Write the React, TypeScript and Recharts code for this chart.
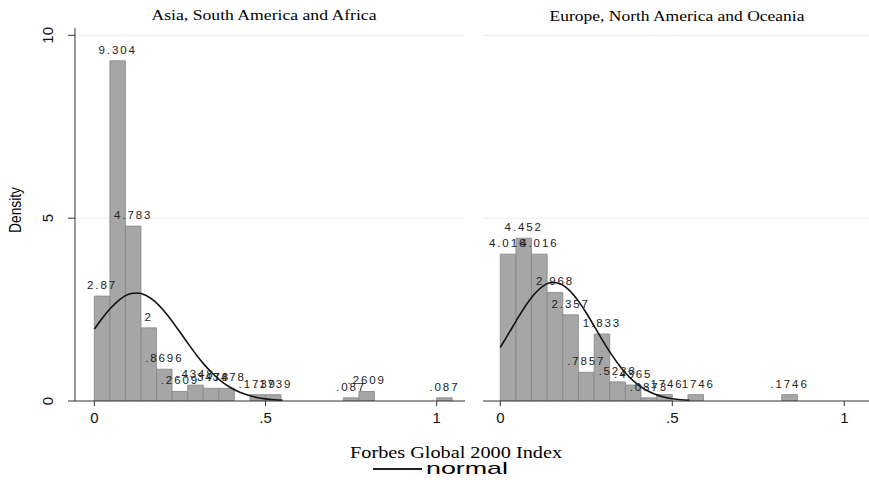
import React from 'react';
import { ComposedChart, Bar, Line, XAxis, YAxis, CartesianGrid, LabelList } from 'recharts';

const panelTitles = ['Asia, South America and Africa', 'Europe, North America and Oceania'];
const xAxisTitle = 'Forbes Global 2000 Index';
const yAxisTitle = 'Density';
const legendLabel = 'normal';

const xTicks = [0, 0.5, 1];
const yTicks = [0, 5, 10];
const binWidth = 0.04545;

// histogram bin midpoints and densities (empty bins left out)
const asiaBins = [0.0227, 0.0682, 0.1136, 0.1591, 0.2045, 0.25, 0.2955, 0.3409, 0.3864, 0.4773, 0.5227, 0.75, 0.7955, 1.0227];
const asiaDensity = [2.87, 9.304, 4.783, 2, 0.8696, 0.2609, 0.4348, 0.3478, 0.3478, 0.1739, 0.1739, 0.087, 0.2609, 0.087];

const europeBins = [0.0227, 0.0682, 0.1136, 0.1591, 0.2045, 0.25, 0.2955, 0.3409, 0.3864, 0.4318, 0.4773, 0.5682, 0.8409];
const europeDensity = [4.016, 4.452, 4.016, 2.968, 2.357, 0.7857, 1.833, 0.5238, 0.4365, 0.0873, 0.1746, 0.1746, 0.1746];

// normal curve
const curveX = [0, 0.025, 0.05, 0.075, 0.1, 0.125, 0.15, 0.175, 0.2, 0.225, 0.25, 0.275, 0.3, 0.325, 0.35, 0.375, 0.4, 0.425, 0.45, 0.475, 0.5, 0.525, 0.55];
const asiaNormal = [1.965, 2.283, 2.563, 2.781, 2.916, 2.955, 2.892, 2.736, 2.501, 2.209, 1.885, 1.555, 1.239, 0.954, 0.71, 0.51, 0.355, 0.238, 0.155, 0.097, 0.059, 0.034, 0.019];
const europeNormal = [1.466, 1.855, 2.253, 2.625, 2.934, 3.148, 3.24, 3.201, 3.033, 2.758, 2.407, 2.015, 1.619, 1.248, 0.923, 0.655, 0.446, 0.292, 0.183, 0.11, 0.063, 0.035, 0.019];

const sans = 'Liberation Sans, Arial, sans-serif';
const serif = 'Liberation Serif, Times New Roman, serif';

// stata style: drop the leading zero
const fmt = (v: any) => String(v).replace(/^0\./, '.');

const YTick = (props: any) => {
    const { x, y, payload } = props;
    const tx = x - 13;
    return (
        <text x={tx} y={y} transform={`rotate(-90 ${tx} ${y})`} textAnchor="middle" fontSize={15} fill="#111" fontFamily={sans}>
            {payload.value}
        </text>
    );
};

interface PanelProps {
    bins: number[];
    density: number[];
    normal: number[];
    left: number;
    width: number;
    xDomain: [number, number];
    showY: boolean;
}

function Panel({ bins, density, normal, left, width, xDomain, showY }: PanelProps) {
    const bars = bins.map((x, i) => ({ x, density: density[i] }));
    const curve = curveX.map((x, i) => ({ x, normal: normal[i] }));
    const margin = showY ? { top: 28, right: 5, bottom: 0, left: 0 } : { top: 28, right: 0, bottom: 0, left: 5 };
    const plotWidth = width - (showY ? 80 : 5);
    const barSize = (plotWidth * binWidth) / (xDomain[1] - xDomain[0]) - 0.05;

    return (
        <div style={{ position: 'absolute', left, top: 0 }}>
            <ComposedChart width={width} height={480} data={bars} margin={margin} barCategoryGap={0}>
                <CartesianGrid vertical={false} horizontalValues={[5, 10]} stroke="#ececec" />
                <XAxis
                    dataKey="x"
                    type="number"
                    domain={xDomain}
                    allowDataOverflow
                    ticks={xTicks}
                    tickFormatter={fmt}
                    height={79}
                    tickSize={5}
                    tickMargin={6}
                    stroke="#333"
                    tick={{ fontSize: 15, fill: '#111', fontFamily: sans }}
                />
                <XAxis xAxisId="curve" dataKey="x" type="number" domain={xDomain} allowDataOverflow hide />
                <YAxis
                    type="number"
                    domain={[0, 10.2]}
                    allowDataOverflow
                    ticks={yTicks}
                    width={75}
                    hide={!showY}
                    tickSize={7}
                    stroke="#333"
                    tick={<YTick />}
                />
                <Bar dataKey="density" fill="#a6a6a6" stroke="#858585" strokeWidth={0.8} barSize={barSize} isAnimationActive={false}>
                    <LabelList
                        dataKey="density"
                        position="top"
                        offset={7}
                        formatter={fmt}
                        fontSize={11.5}
                        fill="#222"
                        fontFamily={sans}
                        style={{ letterSpacing: '1.9px' }}
                    />
                </Bar>
                <Line
                    xAxisId="curve"
                    data={curve}
                    dataKey="normal"
                    type="monotone"
                    stroke="#111"
                    strokeWidth={1.6}
                    dot={false}
                    isAnimationActive={false}
                />
            </ComposedChart>
        </div>
    );
}

export default function App() {
    return (
        <div style={{ position: 'absolute', left: 0, top: 0, width: 869, height: 480, background: '#fff', overflow: 'hidden' }}>
            <Panel bins={asiaBins} density={asiaDensity} normal={asiaNormal} left={0} width={470} xDomain={[-0.0564, 1.0826]} showY />
            <Panel bins={europeBins} density={europeDensity} normal={europeNormal} left={478} width={391} xDomain={[-0.0503, 1.0718]} showY={false} />
            <svg width={869} height={480} style={{ position: 'absolute', left: 0, top: 0, pointerEvents: 'none' }}>
                <text x={264} y={20} textAnchor="middle" fontSize={15} fill="#000" fontFamily={serif} textLength={225} lengthAdjust="spacingAndGlyphs">
                    {panelTitles[0]}
                </text>
                <text x={677} y={20.5} textAnchor="middle" fontSize={15} fill="#000" fontFamily={serif} textLength={255} lengthAdjust="spacingAndGlyphs">
                    {panelTitles[1]}
                </text>
                <text x={21} y={210} transform="rotate(-90 21 210)" textAnchor="middle" fontSize={17} fill="#000" fontFamily={sans} textLength={46} lengthAdjust="spacingAndGlyphs">
                    {yAxisTitle}
                </text>
                <text x={456} y={458} textAnchor="middle" fontSize={16} fill="#000" fontFamily={serif} textLength={212} lengthAdjust="spacingAndGlyphs">
                    {xAxisTitle}
                </text>
                <line x1={373} y1={469} x2={422} y2={469} stroke="#222" strokeWidth={2} />
                <text x={426} y={474} fontSize={17} fill="#000" fontFamily={sans} textLength={82} lengthAdjust="spacingAndGlyphs">
                    {legendLabel}
                </text>
            </svg>
        </div>
    );
}
